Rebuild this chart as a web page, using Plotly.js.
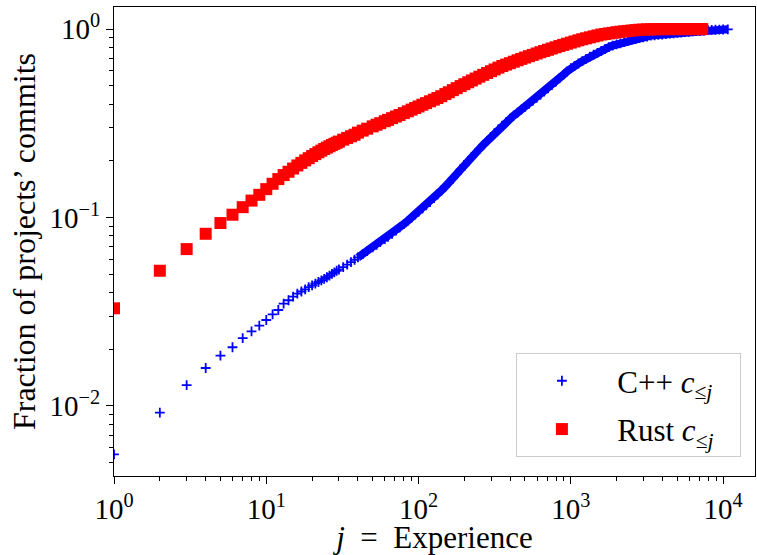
<!DOCTYPE html>
<html>
<head>
<meta charset="utf-8">
<script src="https://cdn.plot.ly/plotly-3.0.1.min.js"></script>
<style>html,body{margin:0;padding:0;background:#fff;}#chart{width:757px;height:555px;}</style>
</head>
<body>
<div id="chart"></div>
<script>
// ---- data ----
const cppJ = [1,2,3,4,5,6,7,8,9,10,11,12,13,14,15,16,17,18,19,20,21,22,23,24,25,26,27,28,29,30,
  32,34,36,38,40,43,46,50,53,56,60,63,67,71,75,80,85,90,95,100,106,112,119,126,133,141,150,158,168,178,189,200,
  212,224,237,251,266,282,299,316,335,355,376,398,422,447,473,501,531,562,596,631,668,708,750,794,841,891,944,1000,
  1059,1122,1189,1259,1334,1413,1496,1585,1679,1778,1884,1995,2113,2239,2371,2512,2661,2818,2985,3162,3350,3548,
  3758,3981,4217,4467,4732,5012,5309,5623,5957,6310,6683,7080,7499,7943,8414,8913,9441,10000,10740];
const cppValues = [0.00554,0.00921,0.0129,0.0159,0.0185,0.0205,0.0229,0.0249,0.0267,0.0286,0.0306,0.0323,0.0349,0.0364,0.0380,0.0395,0.0405,0.0416,0.0427,0.0437,0.0446,0.0455,0.0464,0.0473,0.0482,0.0492,0.0502,0.0512,0.0522,0.0530,
  0.0546,0.0563,0.0580,0.0597,0.0614,0.0639,0.0663,0.0694,0.0717,0.0740,0.0769,0.0790,0.0820,0.0853,0.0884,0.0923,0.0961,0.0999,0.1036,0.1073,0.1117,0.1160,0.1209,0.1267,0.1325,0.1390,0.1463,0.1527,0.1612,0.1700,0.1798,0.1894,
  0.1999,0.2101,0.2204,0.2314,0.2430,0.2553,0.2682,0.2805,0.2940,0.3075,0.3210,0.3350,0.3480,0.3605,0.3735,0.3870,0.4010,0.4155,0.4315,0.4480,0.4655,0.4842,0.5041,0.5253,0.5477,0.5711,0.5957,0.6211,
  0.6385,0.6567,0.6754,0.6943,0.7140,0.7316,0.7485,0.7661,0.7843,0.8025,0.8180,0.8294,0.8409,0.8528,0.8647,0.8762,0.8853,0.8945,0.9041,0.9135,0.9232,0.9277,
  0.9320,0.9363,0.9406,0.9452,0.9495,0.9539,0.9583,0.9627,0.9672,0.9714,0.9754,0.9793,0.9831,0.9872,0.9906,0.9922,0.9938,0.9954,0.997];

const rustJ = [1,2,3,4,5,6,7,8,9,10,11,12,13,14,15,16,17,18,19,20,21,22,23,24,25,26,27,28,29,30,
  32,34,36,38,40,43,46,50,53,56,60,63,67,71,75,80,85,90,95,100,106,112,119,126,133,141,150,158,168,178,189,200,
  212,224,237,251,266,282,299,316,335,355,376,398,422,447,473,501,531,562,596,631,668,708,750,794,841,891,944,1000,
  1059,1122,1189,1259,1334,1413,1496,1585,1679,1778,1884,1995,2113,2239,2371,2512,2661,2818,2985,3162,3350,3548,
  3758,3981,4217,4467,4732,5012,5309,5623,5957,6310,6683,7080,7300];
const rustValues = [0.033,0.0522,0.068,0.082,0.0935,0.1035,0.1135,0.123,0.132,0.1415,0.151,0.160,0.168,0.175,0.182,0.189,0.195,0.201,0.2065,0.212,0.217,0.222,0.2265,0.231,0.235,0.239,0.2425,0.246,0.2495,0.253,
  0.259,0.2645,0.270,0.275,0.2822,0.2892,0.2961,0.3046,0.3108,0.3168,0.3243,0.3297,0.3368,0.3436,0.3501,0.3582,0.3662,0.3739,0.3813,0.3885,0.3969,0.4048,0.4138,0.4224,0.4307,0.4404,0.4521,0.4621,0.4742,0.4860,0.4985,0.5101,
  0.5222,0.5339,0.5462,0.5590,0.5718,0.5847,0.5979,0.6107,0.6243,0.6371,0.6483,0.6595,0.6713,0.6832,0.6950,0.7063,0.7181,0.7295,0.7419,0.7539,0.7653,0.7771,0.7889,0.8008,0.8128,0.8246,0.8364,0.8479,
  0.8597,0.8719,0.8835,0.8938,0.9042,0.9148,0.9252,0.9357,0.9423,0.9489,0.9554,0.9620,0.9687,0.9736,0.9781,0.9829,0.9874,0.9920,0.9945,0.996,0.997,0.998,
  0.999,1.0,1.0,1.0,1.0,1.0,1.0,1.0,1.0,1.0,1.0,1.0,1.0];

const seriesNames = ['\u2004C++ <i>c</i><sub>≤<i>j</i></sub>\u2002\u2006', '\u2004Rust <i>c</i><sub>≤<i>j</i></sub>\u2002\u2006'];
const xTickVals = [1, 10, 100, 1000, 10000];
const xTickText = ['10<sup>0</sup>', '10<sup>1</sup>', '10<sup>2</sup>', '10<sup>3</sup>', '10<sup>4</sup>'];
const yTickVals = [0.01, 0.1, 1];
const yTickText = ['10<sup>−2</sup>', '10<sup>−1</sup>', '10<sup>0</sup>'];
const xTitle = '<i>j</i>\u2002=\u2002Experience';
const yTitle = 'Fraction of projects’ commits';

// minor ticks (2..9 x each decade)
const xMinor = [], yMinor = [];
[1, 10, 100, 1000, 10000].forEach(d => { for (let k = 2; k <= 9; k++) xMinor.push(k * d); });
[0.001, 0.01, 0.1].forEach(d => { for (let k = 2; k <= 9; k++) yMinor.push(k * d); });

// dense part of the C++ series drawn as a band underneath its markers
const bandStart = cppJ.indexOf(40);
const cppBandJ = cppJ.slice(bandStart), cppBandV = cppValues.slice(bandStart);

const traces = [
  {x: cppBandJ, y: cppBandV, type: 'scatter', mode: 'lines', showlegend: false, hoverinfo: 'skip',
   line: {color: '#0000ff', width: 8}},
  {x: cppJ, y: cppValues, type: 'scatter', mode: 'markers', name: seriesNames[0], legendgroup: 'cpp',
   marker: {symbol: 'cross-thin', size: 7, color: '#0000ff', line: {color: '#0000ff', width: 1.8}}},
  {x: rustJ, y: rustValues, type: 'scatter', mode: 'markers', name: seriesNames[1], legendgroup: 'rust',
   marker: {symbol: 'square', size: 12, color: '#ff0000', line: {width: 0}}}
];

const FONT = 'Liberation Serif, serif';
const axisCommon = {
  type: 'log', ticks: 'outside', ticklen: 7, tickwidth: 1, tickcolor: 'black',
  showline: true, linecolor: 'black', linewidth: 1, mirror: true,
  showgrid: false, zeroline: false, automargin: false,
  tickfont: {family: FONT, size: 29, color: 'black'}
};

const layout = {
  width: 757, height: 555,
  margin: {l: 114, r: 2, t: 7, b: 79, pad: 0},
  paper_bgcolor: 'white', plot_bgcolor: 'white',
  font: {family: FONT, size: 29, color: 'black'},
  showlegend: true,
  xaxis: Object.assign({}, axisCommon, {
    range: [0, Math.log10(16200)], tickmode: 'array', tickvals: xTickVals, ticktext: xTickText,
    minor: {tickmode: 'array', tickvals: xMinor, ticks: 'outside', ticklen: 4, tickwidth: 1, tickcolor: 'black', showgrid: false},
    title: {text: xTitle, standoff: 10, font: {family: FONT, size: 31}}
  }),
  yaxis: Object.assign({}, axisCommon, {
    range: [Math.log10(0.00425), Math.log10(1.31)], tickmode: 'array', tickvals: yTickVals, ticktext: yTickText,
    minor: {tickmode: 'array', tickvals: yMinor, ticks: 'outside', ticklen: 4, tickwidth: 1, tickcolor: 'black', showgrid: false},
    title: {text: yTitle, standoff: 4, font: {family: FONT, size: 32}}
  }),
  legend: {
    x: 0.627, y: 0.262, xanchor: 'left', yanchor: 'top',
    bgcolor: 'rgba(255,255,255,0.8)', bordercolor: '#cccccc', borderwidth: 1,
    font: {family: FONT, size: 31, color: 'black'},
    itemwidth: 80, tracegroupgap: 5
  }
};

Plotly.newPlot('chart', traces, layout, {displayModeBar: false, staticPlot: true});
</script>
</body>
</html>
